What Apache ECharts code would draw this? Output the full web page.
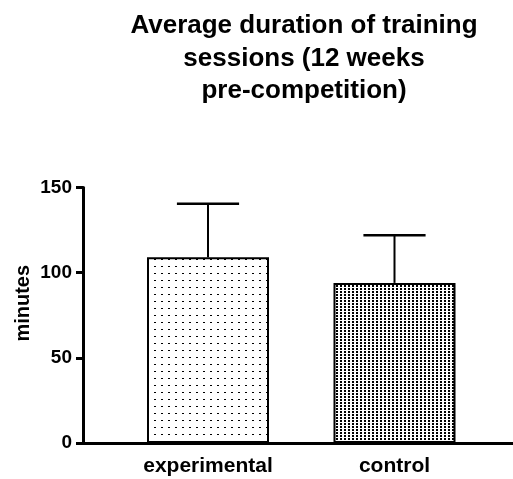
<!DOCTYPE html>
<html>
<head>
<meta charset="utf-8">
<script src="https://cdn.jsdelivr.net/npm/echarts@6/dist/echarts.min.js"></script>
<style>
html,body{margin:0;padding:0;background:#fff;}
#chart{width:513px;height:479px;}
</style>
</head>
<body>
<div id="chart"></div>
<script>
const categories = ['experimental', 'control'];
const means = [109, 94];
const sds = [31.5, 28];
const yTicks = [0, 50, 100, 150];

const FONT = '"Liberation Sans", Arial, sans-serif';

function makePattern(w, h, dw, dh) {
  const c = document.createElement('canvas');
  c.width = w; c.height = h;
  const ctx = c.getContext('2d');
  ctx.fillStyle = '#fff';
  ctx.fillRect(0, 0, w, h);
  ctx.fillStyle = '#000';
  ctx.fillRect(0, 0, dw, dh);
  return c;
}
const patterns = [
  { image: makePattern(7, 7, 2, 1), repeat: 'repeat' },
  { image: makePattern(4, 3, 2, 2), repeat: 'repeat' }
];

const chart = echarts.init(document.getElementById('chart'), null, { renderer: 'canvas' });

const option = {
  backgroundColor: '#fff',
  animation: false,
  title: {
    text: 'Average duration of training\nsessions (12 weeks\npre-competition)',
    left: 299,
    textAlign: 'center',
    top: 5,
    textStyle: { fontFamily: FONT, fontWeight: 'bold', fontSize: 26, lineHeight: 32.5, color: '#000' }
  },
  grid: [
    { left: 114.75, right: 25.25, top: 187.5, bottom: 36 },
    { left: 81.5, right: 0, top: 187.5, bottom: 36 }
  ],
  xAxis: [
    {
      type: 'category', gridIndex: 0, data: categories,
      axisLine: { show: false }, axisTick: { show: false },
      axisLabel: { fontFamily: FONT, fontWeight: 'bold', fontSize: 21, color: '#000', margin: 13 }
    },
    {
      type: 'value', gridIndex: 1, min: 0, max: 1,
      axisLine: { show: true, lineStyle: { color: '#000', width: 3 } },
      axisTick: { show: false }, axisLabel: { show: false }, splitLine: { show: false }
    }
  ],
  yAxis: [
    {
      type: 'value', gridIndex: 0, min: yTicks[0], max: yTicks[yTicks.length - 1], interval: 50,
      offset: 31.75,
      name: 'minutes', nameLocation: 'middle', nameRotate: 90, nameGap: 50, nameMoveOverlap: false,
      nameTextStyle: { fontFamily: FONT, fontWeight: 'bold', fontSize: 20, color: '#000', padding: [0, 0, 0, 24] },
      axisLine: { show: true, lineStyle: { color: '#000', width: 3 } },
      axisTick: { show: true, length: 7, lineStyle: { color: '#000', width: 3 } },
      axisLabel: { fontFamily: FONT, fontWeight: 'bold', fontSize: 19, color: '#000', margin: 11 },
      splitLine: { show: false }
    },
    { type: 'value', gridIndex: 1, show: false, min: 0, max: 1 }
  ],
  series: [
    {
      type: 'bar', xAxisIndex: 0, yAxisIndex: 0,
      barWidth: 122,
      data: means.map((v, i) => ({ value: v, itemStyle: { color: patterns[i] } })),
      itemStyle: { borderColor: '#000', borderWidth: 2 },
      z: 2
    },
    {
      type: 'custom', xAxisIndex: 0, yAxisIndex: 0, z: 3,
      data: means.map((v, i) => [i, v, sds[i]]),
      renderItem: function (params, api) {
        const x = api.value(0), m = api.value(1), s = api.value(2);
        const base = api.coord([x, m]);
        const top = api.coord([x, m + s]);
        const half = api.size([1, 0])[0] * 0.1667;
        return {
          type: 'group',
          children: [
            { type: 'line', shape: { x1: base[0], y1: base[1], x2: top[0], y2: top[1] }, style: { stroke: '#000', lineWidth: 2 } },
            { type: 'line', shape: { x1: base[0] - half, y1: top[1], x2: base[0] + half, y2: top[1] }, style: { stroke: '#000', lineWidth: 2.5 } }
          ]
        };
      }
    }
  ]
};
chart.setOption(option);
</script>
</body>
</html>
